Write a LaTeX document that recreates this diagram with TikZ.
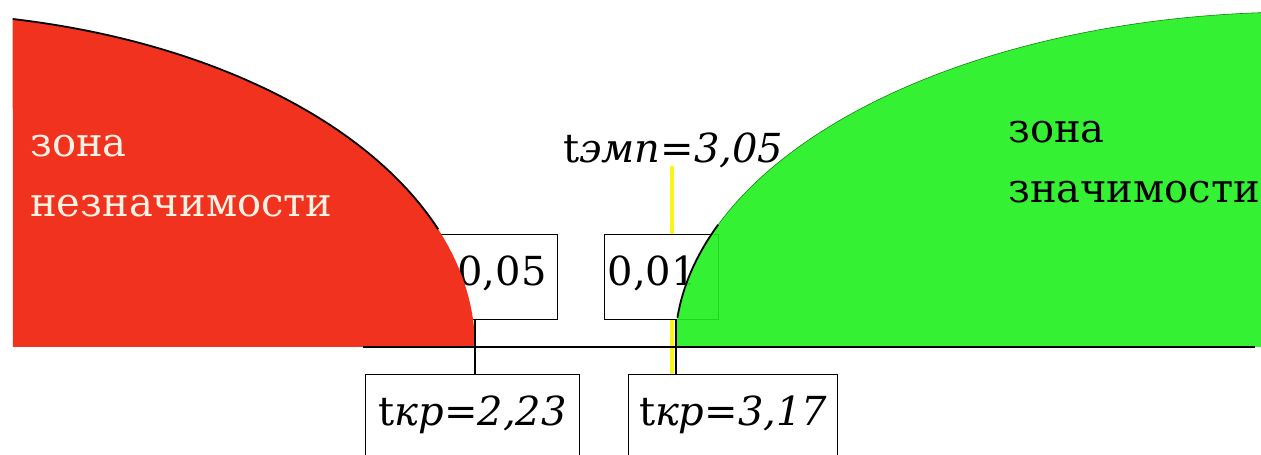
\documentclass[tikz,border=0pt]{standalone}
\usepackage{fontspec}
\setmainfont{DejaVu Serif}
\newcommand\zonefont{\fontsize{40}{60}\selectfont}
\newcommand\labfont{\fontsize{40}{56}\selectfont}
\newcommand\tval[2]{t\textit{#1=#2}}
\definecolor{zonered}{RGB}{240,50,30}
\definecolor{zonegreen}{RGB}{30,240,30}
\definecolor{zonewhite}{RGB}{255,242,228}
\definecolor{empyellow}{RGB}{250,245,20}
\begin{document}
\begin{tikzpicture}[x=1pt, y=1pt, declare function={
    redx(\t)=-100+575*cos(\t);
    redy(\t)=108+334.5*sin(\t);
    grnx(\t)=1300-625*cos(\t);
    grny(\t)=108+335*sin(\t);
  },
  valbox/.style={draw, fill=white, line width=1.2pt, font=\labfont, inner ysep=0pt, text height=51pt, text depth=34pt, anchor=north west},
  crbox/.style={draw, fill=white, line width=1.2pt, font=\labfont, inner sep=0pt, text height=51pt, text depth=60pt, anchor=north west},
  zone/.style={font=\zonefont, align=left, anchor=base west, inner sep=0pt}]
  \useasboundingbox (0,0) rectangle (1261,455);
  \clip (0,0) rectangle (1261,455);
  % points on the axis
  \coordinate (critA) at (475,108);
  \coordinate (critB) at (676,108);
  \coordinate (emp) at (672,108);
  \node[font=\labfont, anchor=base west, inner sep=0pt] (temp) at (563,292) {\tval{эмп}{3,05}};
  \node[crbox, minimum width=214pt] (tkrA) at (365,81) {\tval{кр}{2,23}};
  \node[crbox, minimum width=209pt] (tkrB) at (628,81) {\tval{кр}{3,17}};
  \draw[empyellow, line width=3.5pt] (temp.base -| emp) ++(0,-3) -- (tkrB.north -| emp);
  \node[valbox, text width=98pt, align=right, inner xsep=11pt] (p05) at (437,221) {0,05};
  \node[valbox, text width=108pt, align=left, inner xsep=3pt] (p01) at (604,221) {0,01};
  % zones
  \fill[zonered] (13,108) -- plot[domain=78.7:0, samples=60] ({redx(\x)},{redy(\x)}) -- cycle;
  \fill[zonegreen, fill opacity=0.9] plot[domain=0:90, samples=90] ({grnx(\x)},{grny(\x)}) -- (1300,108) -- cycle;
  \draw[zonegreen!55!black, line width=0.6pt] plot[domain=21.4:90, samples=60] ({grnx(\x)},{grny(\x)});
  \draw[line width=1.8pt] plot[domain=20.6:78.7, samples=60] ({redx(\x)},{redy(\x)});
  \draw[line width=1.8pt] plot[domain=5:21.4, samples=30] ({grnx(\x)},{grny(\x)});
  \draw[line width=1.6pt] (363,108) -- (1255,108);
  \draw[line width=1.6pt] (p05.south -| critA) -- (tkrA.north -| critA);
  \draw[line width=1.6pt] (p01.south -| critB) -- (tkrB.north -| critB);
  \node[zone, text=zonewhite] (zoneA) at (30,238) {зона\\незначимости};
  \node[zone, text=black] (zoneB) at (1008,252) {зона\\значимости};
\end{tikzpicture}
\end{document}
